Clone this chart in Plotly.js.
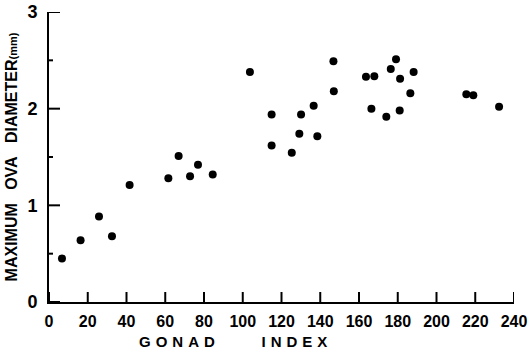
<!DOCTYPE html>
<html>
<head>
<meta charset="utf-8">
<script src="https://cdn.plot.ly/plotly-3.0.1.min.js"></script>
<style>html,body{margin:0;padding:0;background:#fff;}#chart{width:530px;height:355px;}</style>
</head>
<body>
<div id="chart"></div>
<script>
// Gonad index vs maximum ova diameter (mm)
const gonadIndex = [6.7, 16.3, 25.8, 32.5, 41.6, 61.6, 66.9, 72.8, 76.9, 84.5,
  103.7, 114.9, 114.9, 125.3, 129.2, 130.1, 136.6, 138.5, 146.8, 147.0,
  163.6, 166.4, 167.9, 174.1, 176.4, 179.1, 181.0, 181.2, 186.5, 188.2,
  215.4, 219.0, 232.3];
const ovaDiameter = [0.45, 0.64, 0.885, 0.68, 1.21, 1.28, 1.51, 1.30, 1.42, 1.32,
  2.38, 1.94, 1.62, 1.545, 1.74, 1.94, 2.03, 1.715, 2.49, 2.18,
  2.33, 2.00, 2.335, 1.916, 2.41, 2.51, 1.98, 2.31, 2.16, 2.38,
  2.15, 2.14, 2.02];
const xTicks = [0, 20, 40, 60, 80, 100, 120, 140, 160, 180, 200, 220, 240];
const yTicks = [0, 1, 2, 3];
const yMinorTicks = [0.5, 1.5, 2.5];

const fam = 'Liberation Sans';
const W = 530, H = 355, ML = 49, MR = 16, MT = 12, MB = 53;
const plotW = W - ML - MR, plotH = H - MT - MB;

// inward tick marks drawn through the axes' own scales
const tickShapes = [];
xTicks.forEach(v => tickShapes.push({type: 'line', xref: 'x', yref: 'paper', x0: v, x1: v, y0: 0, y1: 10 / plotH,
  line: {color: '#000', width: 2}, layer: 'above'}));
yTicks.forEach(v => tickShapes.push({type: 'line', xref: 'paper', yref: 'y', x0: 0, x1: 11 / plotW, y0: v, y1: v,
  line: {color: '#000', width: 2}, layer: 'above'}));
yMinorTicks.forEach(v => tickShapes.push({type: 'line', xref: 'paper', yref: 'y', x0: 0, x1: 4 / plotW, y0: v, y1: v,
  line: {color: '#000', width: 2}, layer: 'above'}));

const trace = {
  x: gonadIndex, y: ovaDiameter, type: 'scatter', mode: 'markers',
  marker: {color: '#000', size: 8}
};
const layout = {
  width: W, height: H,
  margin: {l: ML, r: MR, t: MT, b: MB, pad: 0},
  showlegend: false,
  font: {family: fam, color: '#000'},
  xaxis: {
    range: [0, 240], tickmode: 'array', tickvals: xTicks, ticktext: xTicks.map(String),
    showgrid: false, zeroline: false, showline: true, linecolor: '#000', linewidth: 2,
    ticks: '', ticklabelstandoff: 4,
    tickfont: {family: fam, size: 16, weight: 'bold', color: '#000'}
  },
  yaxis: {
    range: [0, 3], tickmode: 'array', tickvals: yTicks, ticktext: yTicks.map(String),
    showgrid: false, zeroline: false, showline: true, linecolor: '#000', linewidth: 2,
    ticks: '', ticklabelstandoff: 6,
    tickfont: {family: fam, size: 18, weight: 'bold', color: '#000'},
    title: {text: 'MAXIMUM\u00a0\u00a0\u00a0OVA\u00a0\u00a0\u00a0DIAMETER<span style="font-size:11px">(mm)</span>',
      font: {family: fam, size: 16, weight: 'bold', color: '#000'}, standoff: 6}
  },
  shapes: tickShapes,
  annotations: [{
    xref: 'paper', yref: 'paper', x: 0.40, y: -0.135, xanchor: 'center', yanchor: 'middle',
    showarrow: false,
    text: '<span style="letter-spacing:5px">GONAD</span>\u00a0\u00a0\u00a0\u00a0\u00a0\u00a0\u00a0\u00a0\u00a0\u00a0<span style="letter-spacing:5px">INDEX</span>',
    font: {family: fam, size: 15, weight: 'bold', color: '#000'}
  }]
};
Plotly.newPlot('chart', [trace], layout, {staticPlot: true});
</script>
</body>
</html>
